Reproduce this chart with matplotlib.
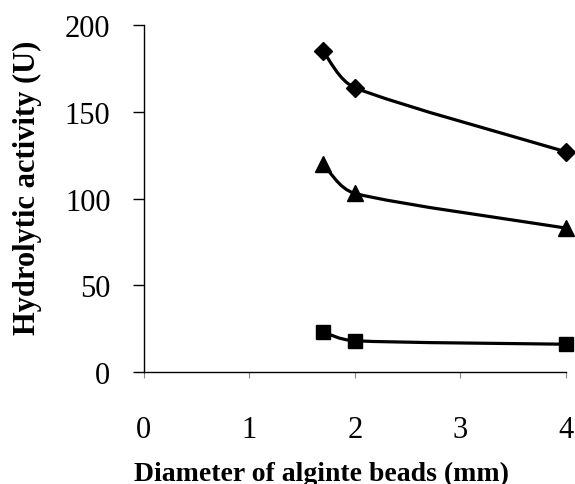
import numpy as np
import matplotlib
matplotlib.use("Agg")
import matplotlib.pyplot as plt
from matplotlib.path import Path
from matplotlib.patches import PathPatch

plt.rcParams['font.family'] = ['Liberation Serif', 'DejaVu Serif']

diameter = [1.7, 2.0, 4.0]
diamond_vals = [185, 164, 127]
triangle_vals = [120, 103, 83]
square_vals = [23, 18, 16]
xticks = [0, 1, 2, 3, 4]
yticks = [0, 50, 100, 150, 200]


def smooth_path(xs, ys):
    # catmull-rom style bezier, control points kept inside each x-interval
    pts = np.column_stack([xs, ys]).astype(float)
    verts = [pts[0]]
    codes = [Path.MOVETO]
    n = len(pts)
    for i in range(n - 1):
        p0 = pts[i - 1] if i > 0 else pts[i]
        p1 = pts[i]
        p2 = pts[i + 1]
        p3 = pts[i + 2] if i + 2 < n else pts[i + 1]
        dx = p2[0] - p1[0]
        t1 = (p2 - p0) / 6.0
        t2 = (p3 - p1) / 6.0
        if t1[0] > 0.5 * dx:
            t1 = t1 * 0.5 * dx / t1[0]
        if t2[0] > 0.5 * dx:
            t2 = t2 * 0.5 * dx / t2[0]
        verts += [p1 + t1, p2 - t2, p2]
        codes += [Path.CURVE4] * 3
    return Path(verts, codes)


fig = plt.figure(figsize=(5.75, 4.85), dpi=100)
ax = fig.add_axes([0.250, 0.231, 0.734, 0.715])

for vals, mk, ms in [(diamond_vals, 'D', 9), (triangle_vals, '^', 11), (square_vals, 's', 10)]:
    ax.add_patch(PathPatch(smooth_path(diameter, vals), fill=False, lw=2.3, color='black'))
    ax.plot(diameter, vals, linestyle='none', marker=mk, markersize=ms, color='black', clip_on=False)

ax.set_xlim(0, 4)
ax.set_ylim(0, 200)
ax.set_xticks(xticks)
ax.set_yticks(yticks)
ax.spines['top'].set_visible(False)
ax.spines['right'].set_visible(False)
ax.spines['left'].set_linewidth(1.0)
ax.spines['bottom'].set_linewidth(1.0)
ax.tick_params(axis='y', direction='out', length=8, width=1.0, pad=16, labelsize=22)
ax.tick_params(axis='x', direction='out', length=4, width=0.8, pad=27, labelsize=22, color='#888888')

ax.set_xlabel('Diameter of alginte beads (mm)', fontsize=20, fontweight='bold')
ax.xaxis.set_label_coords(0.42, -0.255)
ax.set_ylabel('Hydrolytic activity (U)', fontsize=22, fontweight='bold')
ax.yaxis.set_label_coords(-0.24, 0.533)

fig.savefig('out.png', dpi=100)
